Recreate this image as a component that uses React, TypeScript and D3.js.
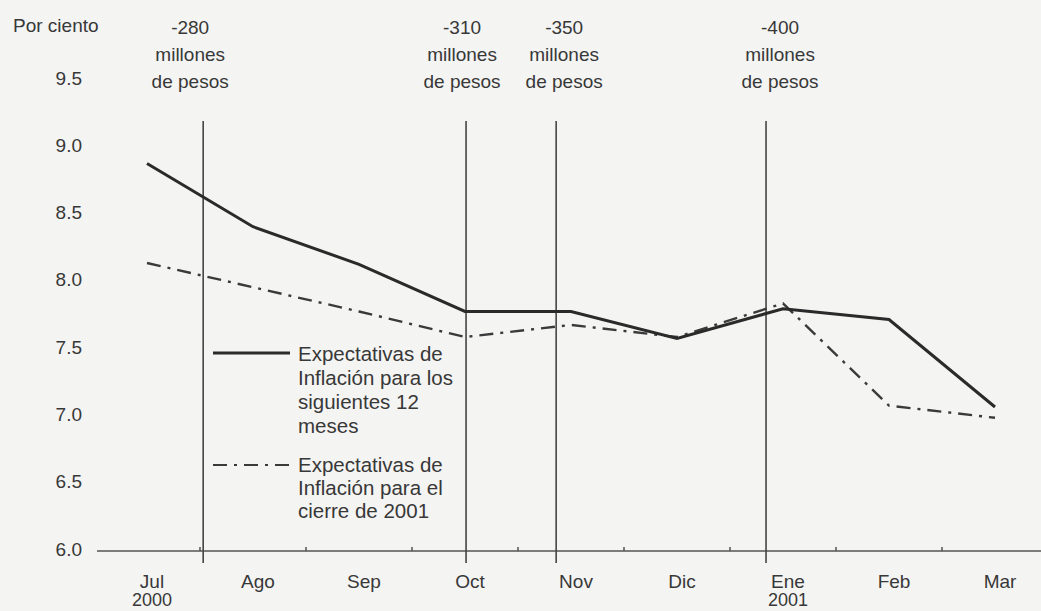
import React from "react";
import * as d3 from "d3";

const months = ["Jul", "Ago", "Sep", "Oct", "Nov", "Dic", "Ene", "Feb", "Mar"];
const yearLabels = ["2000", "", "", "", "", "", "2001", "", ""];
const expect12 = [8.88, 8.41, 8.13, 7.78, 7.78, 7.58, 7.8, 7.72, 7.07];
const expect2001 = [8.14, 7.96, 7.78, 7.59, 7.68, 7.59, 7.84, 7.08, 6.99];
const yTicks = [6.0, 6.5, 7.0, 7.5, 8.0, 8.5, 9.0, 9.5];
const cutPositions = [0.53, 3.01, 3.86, 5.84];
const cutAmounts = ["-280", "-310", "-350", "-400"];
const cutUnits = ["millones", "de pesos"];
const legend12 = ["Expectativas de", "Inflación para los", "siguientes 12", "meses"];
const legend2001 = ["Expectativas de", "Inflación para el", "cierre de 2001"];

const W = 1041;
const H = 611;
const FONT = "'Liberation Sans', Arial, Helvetica, sans-serif";
const TXT = "#383838";

export default function App() {
  const x = d3.scaleLinear().domain([0, months.length - 1]).range([147, 995]);
  const y = d3.scaleLinear().domain([6, 9.5]).range([551, 80]);
  const line = d3
    .line<number>()
    .x((_, i) => x(i))
    .y((d) => y(d));
  const step = x(1) - x(0);
  const boundaries = d3.range(months.length - 1).map((i) => x(i) + step / 2);
  const labelShift = [-13, -4, 8, 14];

  return (
    <svg
      width={W}
      height={H}
      style={{ position: "absolute", left: 0, top: 0, background: "#f4f4f3" }}
      fontFamily={FONT}
    >
      <rect x={0} y={0} width={W} height={H} fill="#f4f4f3" />
      {/* y label */}
      <text x={13} y={25} fontSize={19} fill={TXT} dominantBaseline="central">
        Por ciento
      </text>
      {yTicks.map((t) => (
        <text
          key={t}
          x={82}
          y={y(t) - 2}
          fontSize={19}
          fill={TXT}
          textAnchor="end"
          dominantBaseline="central"
        >
          {t.toFixed(1)}
        </text>
      ))}
      {/* x axis */}
      <line x1={97} x2={W} y1={y(6)} y2={y(6)} stroke="#555" strokeWidth={1.5} />
      {boundaries.map((b, i) => (
        <line key={i} x1={b} x2={b} y1={y(6)} y2={y(6) - 4} stroke="#555" strokeWidth={1.5} />
      ))}
      {months.map((m, i) => (
        <g key={m}>
          <text
            x={x(i) + 5}
            y={581}
            fontSize={19}
            fill={TXT}
            textAnchor="middle"
            dominantBaseline="central"
          >
            {m}
          </text>
          {yearLabels[i] && (
            <text
              x={x(i) + 5}
              y={600}
              fontSize={18}
              fill={TXT}
              textAnchor="middle"
              dominantBaseline="central"
            >
              {yearLabels[i]}
            </text>
          )}
        </g>
      ))}
      {/* intervention lines */}
      {cutPositions.map((p, i) => (
        <g key={i}>
          <line
            x1={x(p)}
            x2={x(p)}
            y1={121}
            y2={563}
            stroke="#444"
            strokeWidth={1.6}
          />
          {[cutAmounts[i], ...cutUnits].map((s, j) => (
            <text
              key={j}
              x={x(p) + labelShift[i]}
              y={27 + j * 27}
              fontSize={19}
              fill={TXT}
              textAnchor="middle"
              dominantBaseline="central"
            >
              {s}
            </text>
          ))}
        </g>
      ))}
      {/* series */}
      <path
        d={line(expect2001) || ""}
        fill="none"
        stroke="#3a3a3a"
        strokeWidth={2.4}
        strokeDasharray="14,7,3,7"
      />
      <path d={line(expect12) || ""} fill="none" stroke="#2a2a2a" strokeWidth={3} />
      {/* legend */}
      <line x1={213} x2={290} y1={353} y2={353} stroke="#2a2a2a" strokeWidth={3} />
      {legend12.map((s, j) => (
        <text key={j} x={298} y={353 + j * 24} fontSize={20.5} fill={TXT} dominantBaseline="central">
          {s}
        </text>
      ))}
      <line
        x1={213}
        x2={290}
        y1={465}
        y2={465}
        stroke="#3a3a3a"
        strokeWidth={2}
        strokeDasharray="14,7,3,7"
      />
      {legend2001.map((s, j) => (
        <text key={j} x={298} y={464 + j * 23} fontSize={20.5} fill={TXT} dominantBaseline="central">
          {s}
        </text>
      ))}
    </svg>
  );
}
